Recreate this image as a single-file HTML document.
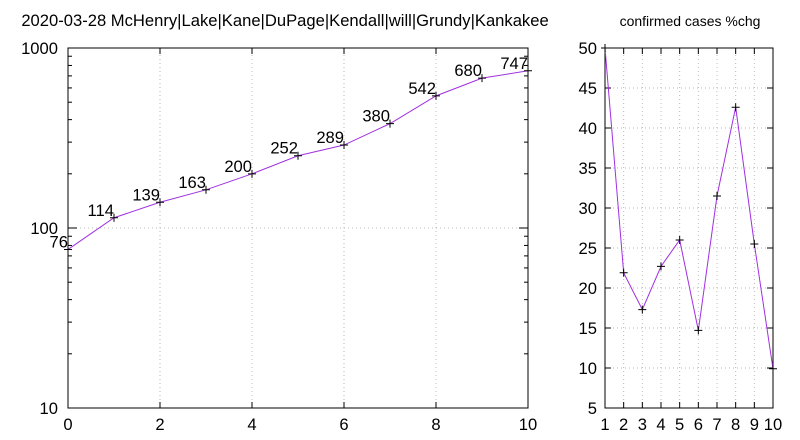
<!DOCTYPE html>
<html><head><meta charset="utf-8"><style>body{margin:0;background:#fff}svg{display:block;font-family:"Liberation Sans",sans-serif}</style></head>
<body>
<svg id="c" width="800" height="440" xmlns="http://www.w3.org/2000/svg"></svg>
<script>
const days=[0,1,2,3,4,5,6,7,8,9,10];
const cases=[76,114,139,163,200,252,289,380,542,680,747];
const pctX=[1,2,3,4,5,6,7,8,9,10];
const pctVals=[50,21.9,17.3,22.7,26.0,14.7,31.5,42.6,25.5,9.9];
const leftXTicks=[0,2,4,6,8,10];
const leftYTicks=[10,100,1000];
const rightXTicks=[1,2,3,4,5,6,7,8,9,10];
const rightYTicks=[5,10,15,20,25,30,35,40,45,50];
const titleLeft="2020-03-28 McHenry|Lake|Kane|DuPage|Kendall|will|Grundy|Kankakee";
const titleRight="confirmed cases %chg";
const svg=document.getElementById('c');const NS="http://www.w3.org/2000/svg";
const FS=16.6;
function el(t,a,p){const e=document.createElementNS(NS,t);for(const k in a)e.setAttribute(k,a[k]);(p||svg).appendChild(e);return e;}
const L={x0:68,x1:528,y0:408,y1:48};
const lx=v=>L.x0+(v-0)/10*(L.x1-L.x0);
const ly=v=>L.y0-(Math.log10(v)-1)/2*(L.y0-L.y1);
const R={x0:605,x1:773,y0:408,y1:48};
const rx=v=>R.x0+(v-1)/9*(R.x1-R.x0);
const ry=v=>R.y0-(v-5)/45*(R.y0-R.y1);
function txt(x,y,s,anchor,name,fs){const t=el('text',{x:x,y:y,'font-size':fs||FS,'text-anchor':anchor,fill:'#000'});t.textContent=s;return t;}
leftXTicks.forEach(v=>{if(v>0&&v<10){const g=el('line',{x1:lx(v),x2:lx(v),y1:L.y0,y2:L.y1,stroke:'#bbb','stroke-dasharray':'1,3'});}
 el('line',{x1:lx(v),x2:lx(v),y1:L.y0,y2:L.y0-6,stroke:'#000'});el('line',{x1:lx(v),x2:lx(v),y1:L.y1,y2:L.y1+6,stroke:'#000'});
 txt(lx(v),430,String(v),'middle','x-tick-label');});
leftYTicks.forEach(v=>{if(v>10&&v<1000){const g=el('line',{x1:L.x0,x2:L.x1,y1:ly(v),y2:ly(v),stroke:'#bbb','stroke-dasharray':'1,3'});}
 el('line',{x1:L.x0,x2:L.x0+9,y1:ly(v),y2:ly(v),stroke:'#000'});el('line',{x1:L.x1,x2:L.x1-9,y1:ly(v),y2:ly(v),stroke:'#000'});
 txt(58,ly(v)+6,String(v),'end','y-tick-label');});
[10,100].forEach(d=>{for(let m=2;m<10;m++){const y=ly(d*m);el('line',{x1:L.x0,x2:L.x0+4,y1:y,y2:y,stroke:'#000'});el('line',{x1:L.x1,x2:L.x1-4,y1:y,y2:y,stroke:'#000'});}});
el('rect',{x:L.x0,y:L.y1,width:L.x1-L.x0,height:L.y0-L.y1,fill:'none',stroke:'#000'});
const lp=el('polyline',{points:days.map((d,i)=>lx(d)+','+ly(cases[i])).join(' '),fill:'none',stroke:'#a030e0','stroke-width':1});

days.forEach((d,i)=>{const x=lx(d),y=ly(cases[i]);el('path',{d:`M${x-4},${y}h8M${x},${y-4}v8`,stroke:'#000'});txt(x,y-2,String(cases[i]),'end','value-label');});
txt(285,26,titleLeft,'middle','left-title');
rightXTicks.forEach(v=>{if(v>1&&v<10){const g=el('line',{x1:rx(v),x2:rx(v),y1:R.y0,y2:R.y1,stroke:'#bbb','stroke-dasharray':'1,3'});}
 el('line',{x1:rx(v),x2:rx(v),y1:R.y0,y2:R.y0-6,stroke:'#000'});el('line',{x1:rx(v),x2:rx(v),y1:R.y1,y2:R.y1+6,stroke:'#000'});
 txt(rx(v),430,String(v),'middle','x-tick-label');});
rightYTicks.forEach(v=>{if(v>5&&v<50){const g=el('line',{x1:R.x0,x2:R.x1,y1:ry(v),y2:ry(v),stroke:'#bbb','stroke-dasharray':'1,3'});}
 el('line',{x1:R.x0,x2:R.x0+6,y1:ry(v),y2:ry(v),stroke:'#000'});el('line',{x1:R.x1,x2:R.x1-6,y1:ry(v),y2:ry(v),stroke:'#000'});
 txt(597,ry(v)+6,String(v),'end','y-tick-label');});
el('rect',{x:R.x0,y:R.y1,width:R.x1-R.x0,height:R.y0-R.y1,fill:'none',stroke:'#000'});
const rp=el('polyline',{points:pctX.map((d,i)=>rx(d)+','+ry(pctVals[i])).join(' '),fill:'none',stroke:'#a030e0','stroke-width':1});

pctX.forEach((d,i)=>{const x=rx(d),y=ry(pctVals[i]);el('path',{d:`M${x-4},${y}h8M${x},${y-4}v8`,stroke:'#000'});});
txt(690,26,titleRight,'middle','right-title',14);
</script>
</body></html>
